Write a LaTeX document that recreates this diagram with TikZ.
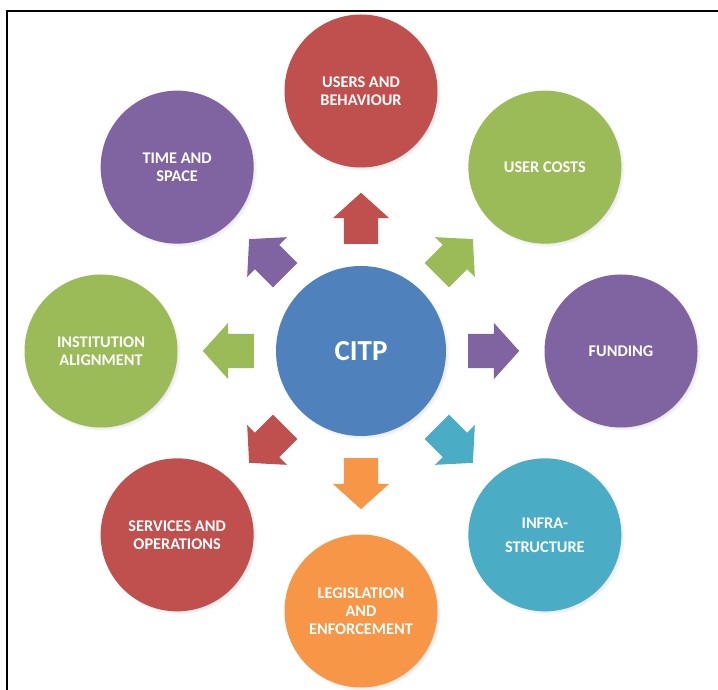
\documentclass[tikz,border=0pt]{standalone}
\usepackage{fontspec}
\setmainfont{Carlito}
\usepackage{tikz}
\usetikzlibrary{shapes.arrows,shadows,calc}
\definecolor{citpblue}{HTML}{4F81BD}
\definecolor{ored}{HTML}{C0504D}
\definecolor{ogreen}{HTML}{9BBB59}
\definecolor{opurple}{HTML}{8064A2}
\definecolor{oaqua}{HTML}{4BACC6}
\definecolor{oorange}{HTML}{F79646}
\tikzstyle{bubble} = [circle,minimum size=153pt,inner sep=0pt,text=white,align=center,
	font=\bfseries\fontsize{16.3}{18}\selectfont,
	circular drop shadow={shadow xshift=2pt,shadow yshift=-2pt,shadow scale=1.02,opacity=0.45}]
\tikzstyle{hub} = [bubble,minimum size=170pt,fill=citpblue,font=\bfseries\fontsize{29}{34}\selectfont]
\tikzstyle{pointer} = [single arrow,minimum height=51pt,inner xsep=0pt,inner ysep=17pt,
	single arrow head extend=11pt,single arrow tip angle=96,anchor=tail]

\begin{document}
\begin{tikzpicture}[x=1pt,y=1pt]
	\useasboundingbox (0,0) rectangle (718,690);
	\draw[line width=1.8pt] (7,0) -- (7,679) -- (718,679);
	
	\node[hub] (citp) at (361,339) {CITP};
	
	\node[bubble,fill=ored] (users) at ($(citp)+(90:260)$) {USERS AND\\BEHAVIOUR};
	\node[bubble,fill=ogreen] (costs) at ($(citp)+(45:260)$) {USER COSTS};
	\node[bubble,fill=opurple] (funding) at ($(citp)+(0:260)$) {FUNDING};
	\node[bubble,fill=oaqua] (infra) at ($(citp)+(-45:260)$) {INFRA-\\[6pt]STRUCTURE};
	\node[bubble,fill=oorange] (law) at ($(citp)+(-90:260)$) {LEGISLATION\\AND\\ENFORCEMENT};
	\node[bubble,fill=ored] (services) at ($(citp)+(-135:260)$) {SERVICES AND\\OPERATIONS};
	\node[bubble,fill=ogreen] (institution) at ($(citp)+(180:260)$) {INSTITUTION\\ALIGNMENT};
	\node[bubble,fill=opurple] (time) at ($(citp)+(135:260)$) {TIME AND\\SPACE};
	
	\foreach \ang/\col in {90/ored,45/ogreen,0/opurple,-45/oaqua,-90/oorange,-135/ored,180/ogreen,135/opurple}
		\node[pointer,fill=\col,rotate=\ang] (arr\ang) at ($(citp)+(\ang:107)$) {};
\end{tikzpicture}
\end{document}
